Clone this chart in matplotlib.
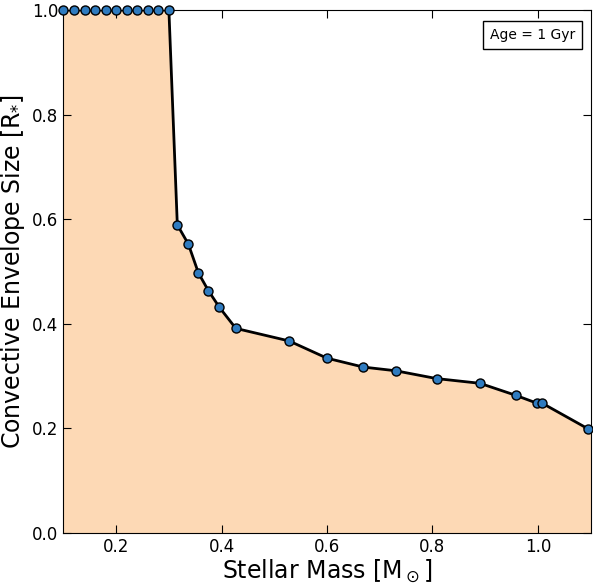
import matplotlib
matplotlib.use('Agg')
import matplotlib.pyplot as plt

mass = [0.10, 0.12, 0.14, 0.16, 0.18, 0.20, 0.22, 0.24, 0.26, 0.28, 0.30,
        0.316, 0.337, 0.356, 0.375, 0.396, 0.427, 0.528, 0.60, 0.669,
        0.73, 0.808, 0.89, 0.958, 0.998, 1.008, 1.095]
env = [1.0, 1.0, 1.0, 1.0, 1.0, 1.0, 1.0, 1.0, 1.0, 1.0, 1.0,
       0.589, 0.552, 0.497, 0.463, 0.431, 0.391, 0.367, 0.334, 0.317,
       0.310, 0.295, 0.286, 0.263, 0.248, 0.248, 0.199]

fig = plt.figure(figsize=(5.93, 5.83), dpi=100)
ax = fig.add_axes([0.107, 0.086, 0.889, 0.897])
ax.fill_between(mass + [1.1], env + [env[-1]], 0, color='#fdd9b5', lw=0)
ax.plot(mass, env, '-', color='black', lw=2, zorder=3)
ax.plot(mass, env, 'o', mfc='#2f7bbf', mec='black', mew=1, ms=6.5, zorder=4,
        clip_on=False)
ax.set_xlim(0.1, 1.1)
ax.set_ylim(0, 1.0)
ax.set_xticks([0.2, 0.4, 0.6, 0.8, 1.0])
ax.set_yticks([0.0, 0.2, 0.4, 0.6, 0.8, 1.0])
ax.tick_params(direction='in', top=True, right=True, labelsize=12, length=6)
ax.set_xlabel(r'Stellar Mass [M$_\odot$]', fontsize=17, labelpad=1)
ax.set_ylabel(r'Convective Envelope Size [R$_{*}$]', fontsize=17)
ax.text(0.97, 0.965, 'Age = 1 Gyr', transform=ax.transAxes, ha='right', va='top',
        fontsize=10, bbox=dict(boxstyle='square,pad=0.5', fc='white', ec='black'))
fig.savefig('out.png', dpi=100)
